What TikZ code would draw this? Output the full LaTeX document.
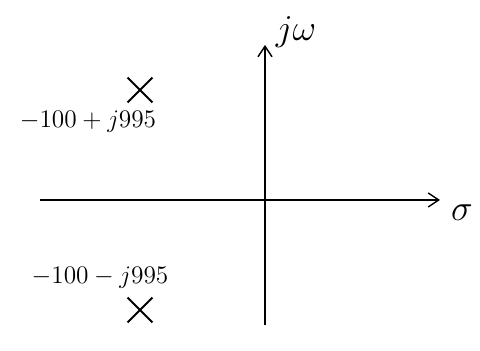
\documentclass[tikz,border=0pt]{standalone}
\usepackage{amsmath}
\usetikzlibrary{arrows.meta, shapes.misc}

\tikzset{
    axis/.style={thick, -{Straight Barb[length=6pt, width=8pt]}},
    pole/.style={cross out, draw, very thick, minimum size=13pt, inner sep=0pt},
    polelabel/.style={font=\Large, inner sep=0pt}
}

\begin{document}
\begin{tikzpicture}[x=0.02cm, y=0.02cm]
    \useasboundingbox (0,0) rectangle (480,351);

    % Axes
    \coordinate (west) at (40,151);
    \coordinate (east) at (440,151);
    \coordinate (south) at (265,26);
    \coordinate (north) at (265,306);
    \draw[axis] (west) -- (east);
    \draw[axis] (south) -- (north);

    % Axis labels
    \node[font=\huge] (sigma) at (462,138) {$\sigma$};
    \node[font=\huge] (jw) at (296,319) {$j\omega$};

    % Poles
    \node[pole] (p1) at (140,261) {};
    \node[pole] (p2) at (140,41) {};

    % Pole values
    \node[polelabel] (l1) at (88,229) {$-100+j995$};
    \node[polelabel] (l2) at (100,73) {$-100-j995$};

\end{tikzpicture}
\end{document}
